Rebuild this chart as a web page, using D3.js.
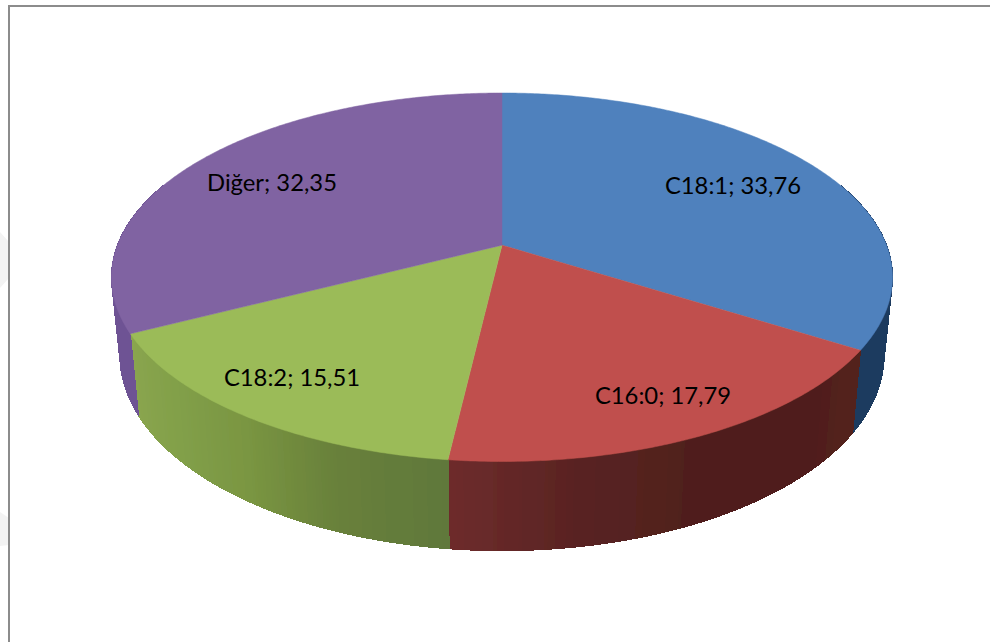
<!DOCTYPE html>
<html><head><meta charset="utf-8">
<style>html,body{margin:0;padding:0;background:#fff}svg{display:block}</style>
<script src="https://cdnjs.cloudflare.com/ajax/libs/d3/7.8.5/d3.min.js"></script>
</head><body><div id="c"></div>
<script>
const categories = ["C18:1","C16:0","C18:2","Diğer"];
const values = [33.76,17.79,15.51,32.35];
const valueLabels = ["33,76","17,79","15,51","32,35"];
const topColors = ["#4f81bd","#c0504d","#9bbb59","#8064a2"];
const wallStops = [["#1f3a5f","#1f3a5f"],["#53201d","#4f1f1d","#4f1f1d","#592322","#6e2c2c"],["#60783a","#68803a","#7a9642","#82a049","#8aa54f"],["#6e5394","#6e5394"]];
const labelAnchors = [[733,188],[663,398],[292,380],[272,185]];

const W=990,H=642;
const svg=d3.select("#c").append("svg").attr("width",W).attr("height",H);
svg.append("rect").attr("width",W).attr("height",H).attr("fill","#fff");
const defs=svg.append("defs");
defs.append("filter").attr("id","soft").attr("x","-5%").attr("y","-5%").attr("width","110%").attr("height","110%")
  .append("feGaussianBlur").attr("stdDeviation",0.6);
// faint scan shadows at the left edge
svg.append("path").attr("d","M0,232L0,288L9,278L9,242Z").attr("fill","#f3f3f3");
svg.append("path").attr("d","M0,512L0,546L9,545L9,518Z").attr("fill","#f3f3f3");
// frame: top and left only
svg.append("path").attr("d","M9,642V6H990").attr("fill","none").attr("stroke","#8c8c8c").attr("stroke-width",2);

// perspective mapping of the unit disc (t shifts the apex up)
const t=-0.174;
const project=a=>{const x=Math.sin(a),y=-Math.cos(a),d=1+t*y;
  return [x*Math.sqrt(1-t*t)/d,(y+t)/d];};
const xTop=d3.scaleLinear().domain([-1,1]).range([111.5,892.5]);
const yTop=d3.scaleLinear().domain([-1,1]).range([93,461.5]);
const xBot=d3.scaleLinear().domain([-1,1]).range([120,884]);
const yBot=d3.scaleLinear().domain([-1,1]).range([160.6,550.6]);
const topPt=a=>{const p=project(a);return [xTop(p[0]),yTop(p[1])];};
const botPt=a=>{const p=project(a);return [xBot(p[0]),yBot(p[1])];};
const line=d3.line();

const arcs=d3.pie().sort(null)(values);
const chart=svg.append("g").attr("filter","url(#soft)");
const wall=chart.append("g").attr("shape-rendering","crispEdges"), face=chart.append("g");
// walls, swept in small bands
arcs.forEach((s,i)=>{
  const span=s.endAngle-s.startAngle;
  const n=Math.ceil(span/0.008);
  const stops=wallStops[i];
  const col=d3.scaleLinear().domain(stops.map((_,k)=>s.startAngle+span*k/(stops.length-1))).range(stops);
  const dA=span/n;
  d3.range(n).map(k=>s.startAngle+dA*k).filter(a=>Math.cos(a)<0.35).forEach(a=>{
    wall.append("path")
      .attr("d",line([topPt(a),topPt(a+dA),botPt(a+dA),botPt(a)])+"Z")
      .attr("fill",col(a)).attr("stroke",col(a)).attr("stroke-width",1.2);
  });
});
// top faces
arcs.forEach((s,i)=>{
  const n=Math.ceil((s.endAngle-s.startAngle)/0.01);
  const rim=d3.range(n+1).map(k=>topPt(s.startAngle+(s.endAngle-s.startAngle)*k/n));
  const apex=[xTop(0),yTop(t)];
  face.append("path").attr("d",line([apex,...rim])+"Z")
    .attr("fill",topColors[i]).attr("stroke",topColors[i]).attr("stroke-width",0.5);
});
// labels
svg.append("g").selectAll("text").data(categories).join("text")
  .attr("x",(d,i)=>labelAnchors[i][0]).attr("y",(d,i)=>labelAnchors[i][1])
  .attr("text-anchor","middle").attr("dominant-baseline","middle")
  .attr("font-family","Lato, 'Open Sans', sans-serif").attr("font-size",23.8).attr("fill","#000")
  .text((d,i)=>`${d}; ${valueLabels[i]}`);
</script></body></html>
